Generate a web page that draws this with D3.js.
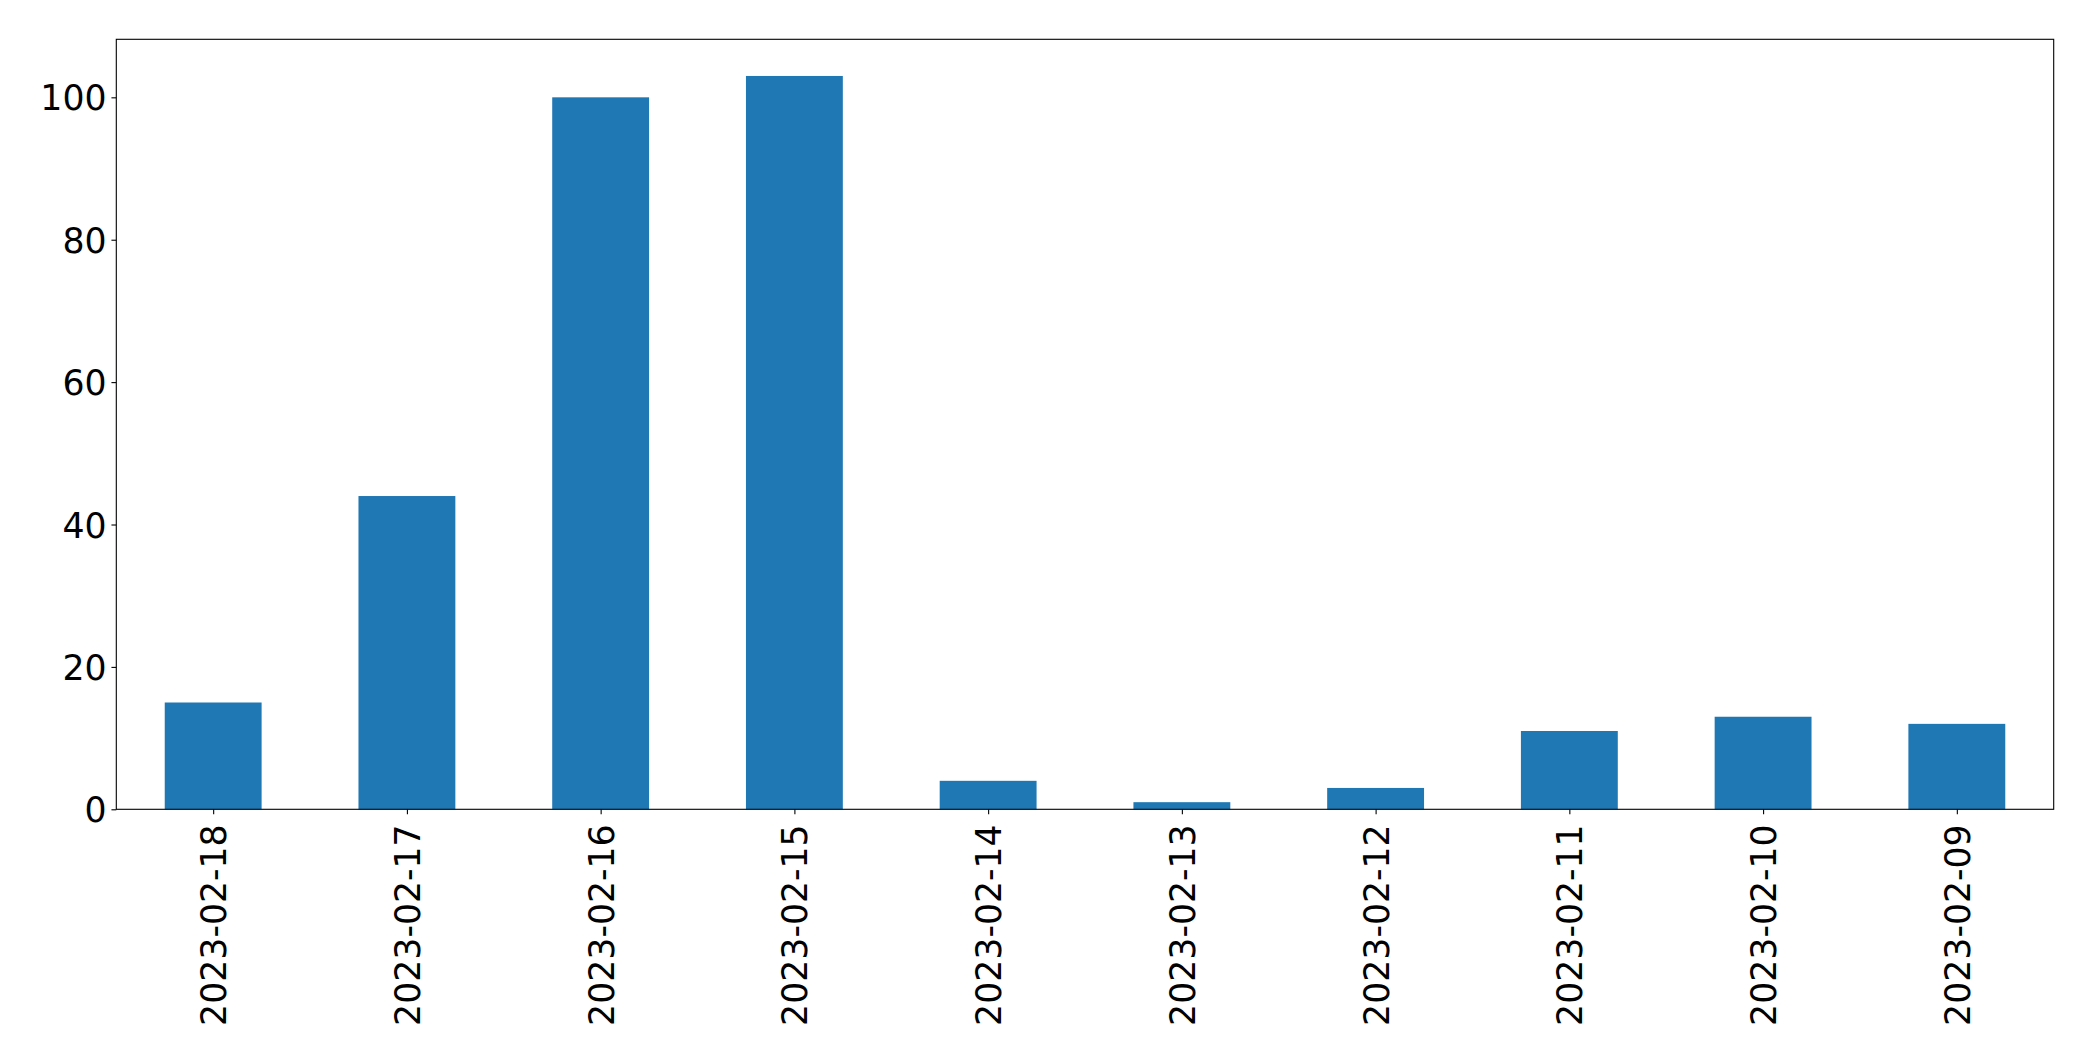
<!DOCTYPE html>
<html>
<head>
<meta charset="utf-8">
<script src="https://cdn.jsdelivr.net/npm/d3@7"></script>
<style>
html,body{margin:0;padding:0;background:#fff;}
svg{display:block;}
text{font-family:"DejaVu Sans",sans-serif;}
</style>
</head>
<body>
<svg id="chart" width="2093" height="1061"></svg>
<script>
const categories = ["2023-02-18","2023-02-17","2023-02-16","2023-02-15","2023-02-14","2023-02-13","2023-02-12","2023-02-11","2023-02-10","2023-02-09"];
const values = [15, 44, 100, 103, 4, 1, 3, 11, 13, 12];
const yTicks = [0, 20, 40, 60, 80, 100];

const W = 2093, H = 1061;
const m = {left:116.3, top:39.3, right:2053.7, bottom:809.3};
const fs = 34.7;
const tickLen = 4.86, pad = 4.86;

const svg = d3.select("#chart");

const x = d3.scaleLinear().domain([-0.5, categories.length - 0.5]).range([m.left, m.right]);
const ymax = d3.max(values) * 1.05;
const y = d3.scaleLinear().domain([0, ymax]).range([m.bottom, m.top]);

// bars
svg.append("g").selectAll("rect").data(values).join("rect")
  .attr("x", (d,i) => x(i - 0.25))
  .attr("width", (d,i) => x(i + 0.25) - x(i - 0.25))
  .attr("y", d => y(d))
  .attr("height", d => y(0) - y(d))
  .attr("fill", "#1f77b4");

// y axis
const yAxis = d3.axisLeft(y).tickValues(yTicks).tickSize(tickLen).tickPadding(pad).tickFormat(d3.format("d"));
const gy = svg.append("g").attr("transform", `translate(${m.left},0)`).call(yAxis);
gy.select(".domain").remove();
gy.selectAll(".tick line").attr("stroke", "#000").attr("stroke-width", 1.1);
gy.selectAll(".tick text").attr("font-size", fs).attr("fill", "#000").attr("dy", "0.36em");

// x axis
const xAxis = d3.axisBottom(x).tickValues(d3.range(categories.length)).tickSize(tickLen).tickFormat(i => categories[i]);
const gx = svg.append("g").attr("transform", `translate(0,${m.bottom})`).call(xAxis);
gx.select(".domain").remove();
gx.selectAll(".tick line").attr("stroke", "#000").attr("stroke-width", 1.1);
gx.selectAll(".tick text")
  .attr("font-size", fs).attr("fill", "#000")
  .attr("text-anchor", "end")
  .attr("dy", "0.36em")
  .attr("y", 0)
  .attr("transform", `translate(0,15) rotate(-90)`);

// frame
svg.append("rect")
  .attr("x", m.left).attr("y", m.top)
  .attr("width", m.right - m.left).attr("height", m.bottom - m.top)
  .attr("fill", "none").attr("stroke", "#000").attr("stroke-width", 1.1);
</script>
</body>
</html>
